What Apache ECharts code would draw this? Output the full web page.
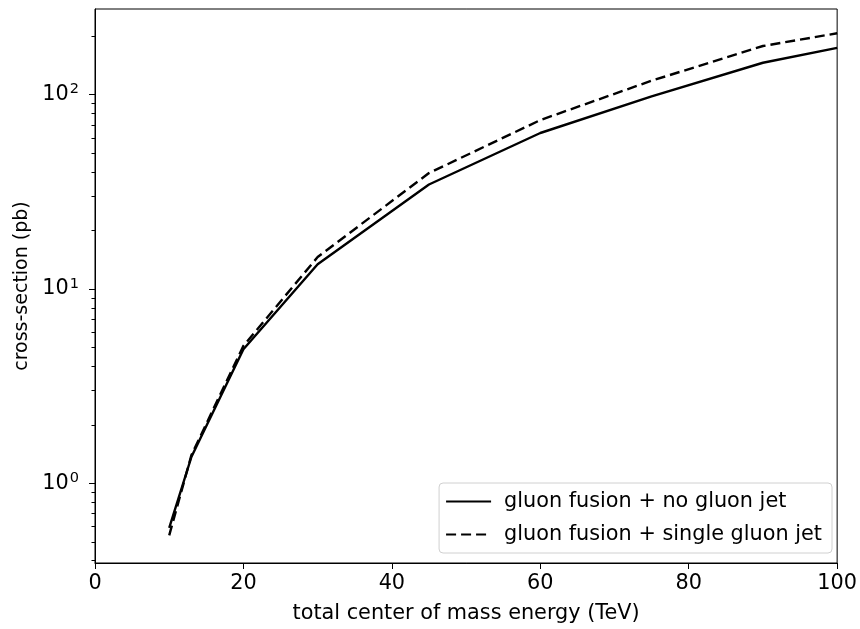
<!DOCTYPE html>
<html>
<head>
<meta charset="utf-8">
<script src="https://cdn.jsdelivr.net/npm/echarts@6/dist/echarts.min.js"></script>
<style>html,body{margin:0;padding:0;background:#fff}#c{width:860px;height:629px}</style>
</head>
<body>
<div id="c"></div>
<script>
const energy = [10, 13, 20, 30, 45, 60, 75, 90, 100];
const noJet = [0.59, 1.37, 4.9, 13.4, 34.5, 63.5, 98, 146, 174];
const singleJet = [0.54, 1.40, 5.1, 14.6, 39.5, 74, 118, 178, 207];
const seriesNames = ['gluon fusion + no gluon jet', 'gluon fusion + single gluon jet'];
const xTicks = [0, 20, 40, 60, 80, 100];
const yMajorTicks = [1, 10, 100];
const yMinorTicks = [0.4, 0.5, 0.6, 0.7, 0.8, 0.9, 2, 3, 4, 5, 6, 7, 8, 9, 20, 30, 40, 50, 60, 70, 80, 90, 200];
const yMin = 0.389, yMax = 276;

const FONT = 'DejaVu Sans';
const FS = 20.8;
const chart = echarts.init(document.getElementById('c'), null, {renderer: 'canvas'});

function pairs(ys) { return energy.map((x, i) => [x, ys[i]]); }

const supFmt = v => {
  const e = Math.round(Math.log10(v));
  return '{b|10}{s|' + e + '}';
};

chart.setOption({
  animation: false,
  backgroundColor: '#fff',
  textStyle: {fontFamily: FONT},
  grid: {left: 95, right: 20, top: 9, bottom: 64, show: true, borderColor: '#000', borderWidth: 1, containLabel: false},
  legend: {
    data: seriesNames.map(n => ({name: n})),
    orient: 'vertical', right: 28, bottom: 76,
    itemWidth: 45, itemHeight: 14, itemGap: 12,
    padding: [8, 10, 8, 6],
    borderColor: '#d0d0d0', borderWidth: 1, borderRadius: 4,
    backgroundColor: 'rgba(255,255,255,0.8)',
    itemStyle: {opacity: 0},
    textStyle: {fontFamily: FONT, fontSize: FS, color: '#000', padding: [0, 0, 0, 8]}
  },
  xAxis: {
    type: 'value', min: 0, max: 100, interval: 20,
    name: 'total center of mass energy (TeV)', nameLocation: 'middle', nameGap: 40,
    nameTextStyle: {fontFamily: FONT, fontSize: FS, color: '#000'},
    axisLine: {show: true, onZero: false, lineStyle: {color: '#000', width: 1}},
    axisTick: {show: true, length: 6, lineStyle: {color: '#000'}},
    axisLabel: {fontFamily: FONT, fontSize: FS, color: '#000', margin: 10, customValues: xTicks},
    splitLine: {show: false}
  },
  yAxis: [{
    type: 'log', logBase: 10, min: yMin, max: yMax, position: 'left',
    name: 'cross-section (pb)', nameLocation: 'middle', nameGap: 63,
    nameTextStyle: {fontFamily: FONT, fontSize: 19, color: '#000'},
    axisLine: {show: true, onZero: false, lineStyle: {color: '#000', width: 1}},
    axisTick: {show: true, length: 6, lineStyle: {color: '#000'}, customValues: yMajorTicks},
    axisLabel: {
      customValues: yMajorTicks, margin: 16, color: '#000', formatter: supFmt,
      rich: {
        b: {fontFamily: FONT, fontSize: FS, color: '#000'},
        s: {fontFamily: FONT, fontSize: 14.5, color: '#000', verticalAlign: 'bottom', padding: [0, 0, 10, 1]}
      }
    },
    splitLine: {show: false}, minorTick: {show: false}
  }, {
    type: 'log', logBase: 10, min: yMin, max: yMax, position: 'left',
    axisLine: {show: false},
    axisTick: {show: true, length: 3.5, lineStyle: {color: '#000'}, customValues: yMinorTicks},
    axisLabel: {show: false},
    splitLine: {show: false}
  }],
  series: [{
    name: seriesNames[0], type: 'line', data: pairs(noJet), yAxisIndex: 0,
    symbol: 'none', smooth: false,
    lineStyle: {color: '#000', width: 2.4, type: 'solid'},
    itemStyle: {color: '#000'}
  }, {
    name: seriesNames[1], type: 'line', data: pairs(singleJet), yAxisIndex: 0,
    symbol: 'none', smooth: false,
    lineStyle: {color: '#000', width: 2.4, type: [10, 5]},
    itemStyle: {color: '#000'}
  }]
});
</script>
</body>
</html>
